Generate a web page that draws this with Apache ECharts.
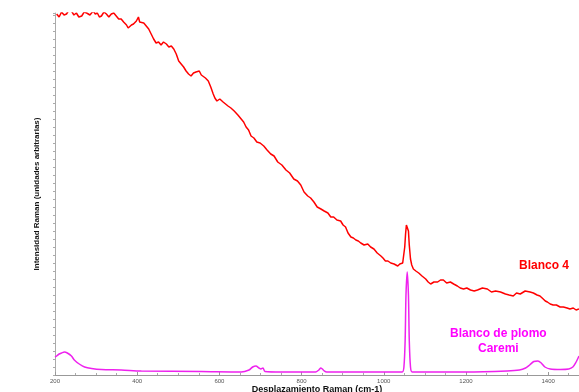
<!DOCTYPE html>
<html>
<head>
<meta charset="utf-8">
<script src="https://cdn.jsdelivr.net/npm/echarts@6/dist/echarts.min.js"></script>
<style>
html,body{margin:0;padding:0;background:#fff;}
#chart{width:579px;height:392px;}
</style>
</head>
<body>
<div id="chart"></div>
<script>
// desplazamiento Raman (cm-1) / intensidad
var shiftRed = [204,210,216,222,228,234,240,246,252,258,265,271,277,285,293,298,303,308,313,319,325,331,337,343,349,355,361,367,374,378,381,386,391,395,398,401,403,406,410,416,422,428,434,440,446,452,458,464,471,477,483,489,495,501,507,513,519,525,531,537,543,547,551,556,560,566,573,579,585,589,594,601,609,615,621,628,636,645,653,659,665,671,677,684,691,699,708,716,725,733,742,752,762,771,781,790,798,806,815,822,830,838,847,855,864,871,878,886,895,901,907,913,920,926,932,938,944,952,961,968,976,984,993,998,1004,1010,1017,1025,1034,1039,1043,1046,1048,1051,1053,1055,1057,1060,1062,1065,1068,1072,1078,1085,1093,1102,1108,1114,1122,1131,1138,1145,1153,1162,1170,1179,1186,1194,1202,1211,1220,1228,1240,1252,1262,1272,1284,1296,1305,1315,1323,1332,1344,1356,1364,1373,1380,1388,1393,1398,1405,1412,1420,1429,1437,1446,1453,1461,1468,1475];
var blanco4 = [361,358,363,360,361,365,364,360,362,358,359,363,362,360,364,361,362,358,359,363,361,358,361,362,359,356,356,353,350,347,346,350,351,349,354,352,358,353,354,352,349,346,341,336,332,333,330,333,331,328,329,326,321,314,311,308,304,301,299,302,303,305,304,300,298,297,294,288,281,277,274,276,273,271,269,267,264,260,256,253,248,245,239,237,233,232,229,225,221,219,213,210,205,202,196,194,190,183,179,177,173,168,166,164,162,158,158,155,154,150,148,142,138,137,135,134,132,130,131,128,126,122,119,117,114,114,112,111,109,111,110,112,114,128,141,150,150,144,130,116,110,106,104,102,99,96,93,91,93,93,95,95,92,93,91,89,87,86,87,85,84,85,87,86,83,84,83,81,80,79,82,81,84,83,82,80,79,76,74,73,71,70,70,68,68,67,66,67,65,66];

var shiftPlomo = [200,204,210,216,223,230,240,247,259,272,289,313,361,410,556,653,672,681,689,696,701,706,711,750,834,842,847,854,861,944,1041,1045,1049,1052,1054,1057,1060,1062,1065,1069,1100,1200,1300,1330,1345,1355,1365,1375,1383,1392,1405,1430,1450,1460,1468,1475];
var plomoCaremi = [18,19,21,22,23,22,19,15,11,8,6.5,5.5,5,4,3.5,3,5,8,9,7,6,7,3.5,3,3,5,7,4.5,3,3,3,3,8,35,80,103,80,35,8,3,3,3,4,5,7,10,13.5,14,12,8,6,5.5,6,8,13,19];

var xTicks = [200,400,600,800,1000,1200,1400];

function pairs(xs, ys){
    var out = [];
    for(var i=0;i<xs.length;i++){
        out.push([xs[i], ys[i]]);
    }
    return out;
}

var myChart = echarts.init(document.getElementById('chart'));
var font = 'Arial, "Liberation Sans", sans-serif';
var option = {
    backgroundColor: '#ffffff',
    animation: false,
    grid: {left: 55, right: 0, top: 13, bottom: 17, outerBoundsMode: 'none', containLabel: false},
    xAxis: {
        type: 'value',
        min: 200,
        max: 1475,
        interval: 200,
        name: 'Desplazamiento Raman (cm-1)',
        nameLocation: 'middle',
        nameGap: 10,
        nameMoveOverlap: false,
        nameTextStyle: {fontFamily: font, fontSize: 9, fontWeight: 'bold', color: '#111'},
        axisLine: {lineStyle: {color: '#999', width: 1}},
        axisTick: {inside: true, length: 3, lineStyle: {color: '#999'}},
        minorTick: {show: true, splitNumber: 4, length: 2, lineStyle: {color: '#aaa'}},
        axisLabel: {
            fontFamily: font, fontSize: 6, color: '#555', margin: 3,
            formatter: function(v){ return xTicks.indexOf(v) >= 0 ? v : ''; },
            showMaxLabel: false
        },
        splitLine: {show: false}
    },
    yAxis: {
        type: 'value',
        min: 0,
        max: 362,
        interval: 8,
        name: 'Intensidad Raman (unidades arbitrarias)',
        nameLocation: 'middle',
        nameGap: 14,
        nameMoveOverlap: false,
        nameTextStyle: {fontFamily: font, fontSize: 8, fontWeight: 'bold', color: '#111'},
        axisLine: {show: true, lineStyle: {color: '#aaa', width: 1}},
        axisTick: {show: true, length: 2, lineStyle: {color: '#aaa'}},
        axisLabel: {show: false},
        splitLine: {show: false}
    },
    series: [
        {
            name: 'Blanco 4',
            type: 'line',
            data: pairs(shiftRed, blanco4),
            showSymbol: false,
            lineStyle: {color: '#ff0000', width: 1.5}
        },
        {
            name: 'Blanco de plomo Caremi',
            type: 'line',
            smooth: 0.3,
            data: pairs(shiftPlomo, plomoCaremi),
            showSymbol: false,
            lineStyle: {color: '#ee22ee', width: 1.5}
        }
    ],
    graphic: [
        {type: 'text', left: 519, top: 260, style: {text: 'Blanco 4', fill: '#ff0000', font: 'bold 12px ' + font}},
        {type: 'text', left: 450, top: 328, style: {text: 'Blanco de plomo', fill: '#ff00ff', font: 'bold 12px ' + font}},
        {type: 'text', left: 478, top: 343, style: {text: 'Caremi', fill: '#ff00ff', font: 'bold 12px ' + font}}
    ]
};
myChart.setOption(option);
</script>
</body>
</html>
